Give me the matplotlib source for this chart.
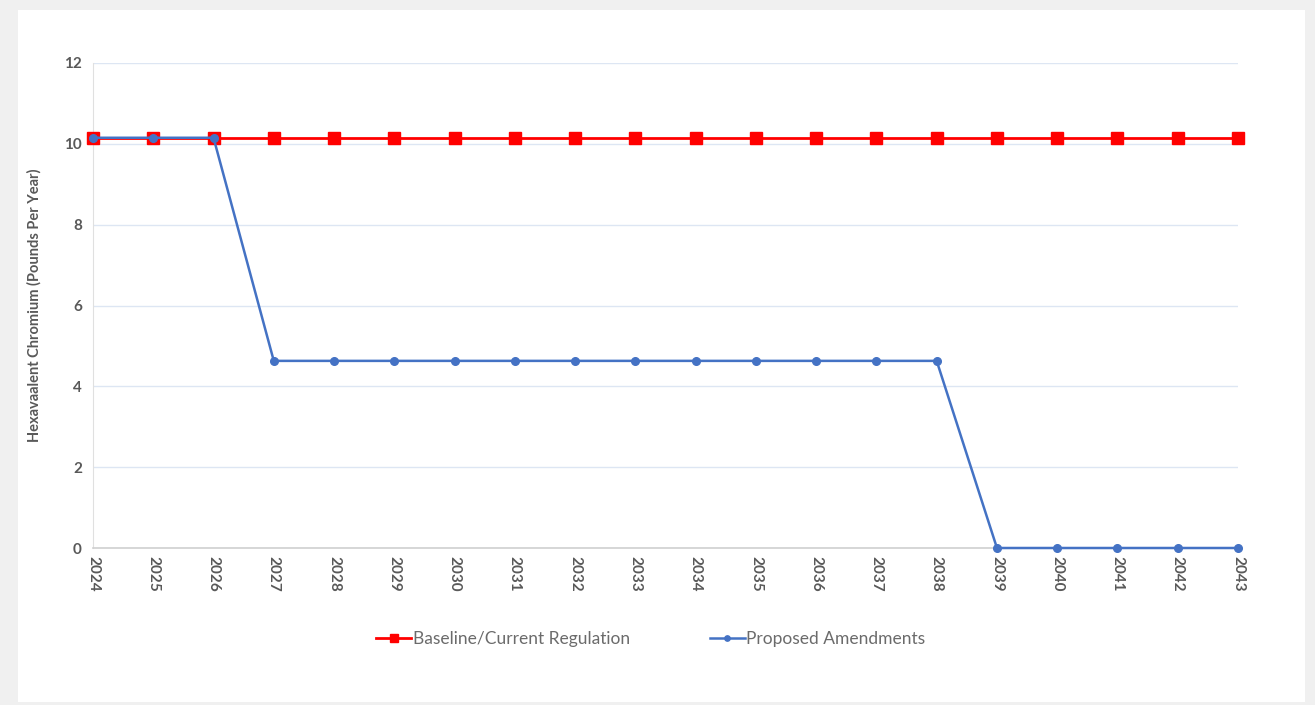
import numpy as np
import matplotlib.pyplot as plt
from matplotlib.patches import Rectangle

plt.rcParams['font.family'] = ['Lato', 'DejaVu Sans']

# dados
anos = list(range(2024, 2044))
baseline = [10.15] * 20
propostas = [10.15] * 3 + [4.63] * 12 + [0.0] * 5
y_ticks = [0, 2, 4, 6, 8, 10, 12]

cinza_txt = '#595959'

fig = plt.figure(figsize=(13.15, 7.05), dpi=100, facecolor='#f0f0f0')
# painel branco por tras do grafico
fig.patches.append(Rectangle((18 / 1315, 3 / 705), (1305 - 18) / 1315, (695 - 3) / 705,
                             transform=fig.transFigure, facecolor='white',
                             edgecolor='none', zorder=-10))

ax = fig.add_axes([93 / 1315, 1 - 548 / 705, (1238 - 93) / 1315, (548 - 63) / 705])
ax.set_facecolor('none')

ax.plot(anos, baseline, color='#ff0000', lw=2, marker='s', ms=8.5,
        label='Baseline/Current Regulation', clip_on=False, zorder=3)
ax.plot(anos, propostas, color='#4472c4', lw=1.8, marker='o', ms=5.5,
        label='Proposed Amendments', clip_on=False, zorder=4)

ax.set_xlim(2024, 2043)
ax.set_ylim(0, 12)
ax.set_xticks(anos)
ax.set_xticklabels([str(a) for a in anos], rotation=-90, fontsize=11,
                   fontweight='bold', color=cinza_txt)
ax.set_yticks(y_ticks)
ax.set_yticklabels([str(v) for v in y_ticks], fontsize=11,
                   fontweight='bold', color=cinza_txt)
ax.tick_params(length=0, pad=8)
ax.tick_params(axis='x', pad=6)

ax.grid(axis='y', color='#dde6f3', lw=1)
ax.set_axisbelow(True)
for lado in ['top', 'right']:
    ax.spines[lado].set_visible(False)
ax.spines['left'].set_color('#e0e0e0')
ax.spines['bottom'].set_color('#d0d0d0')
ax.spines['bottom'].set_linewidth(1.2)

ax.set_ylabel('Hexavaalent Chromium (Pounds Per Year)', fontsize=10.5,
              fontweight='bold', color=cinza_txt, labelpad=16)

fig.legend(loc='center', bbox_to_anchor=(651 / 1315, 1 - 639 / 705), ncol=2,
           frameon=False, fontsize=12.5, labelcolor='#6b6b6b', handlelength=2.0,
           handletextpad=0.1, columnspacing=4.6, markerscale=0.7)

fig.savefig('out.png', dpi=100, facecolor=fig.get_facecolor())
